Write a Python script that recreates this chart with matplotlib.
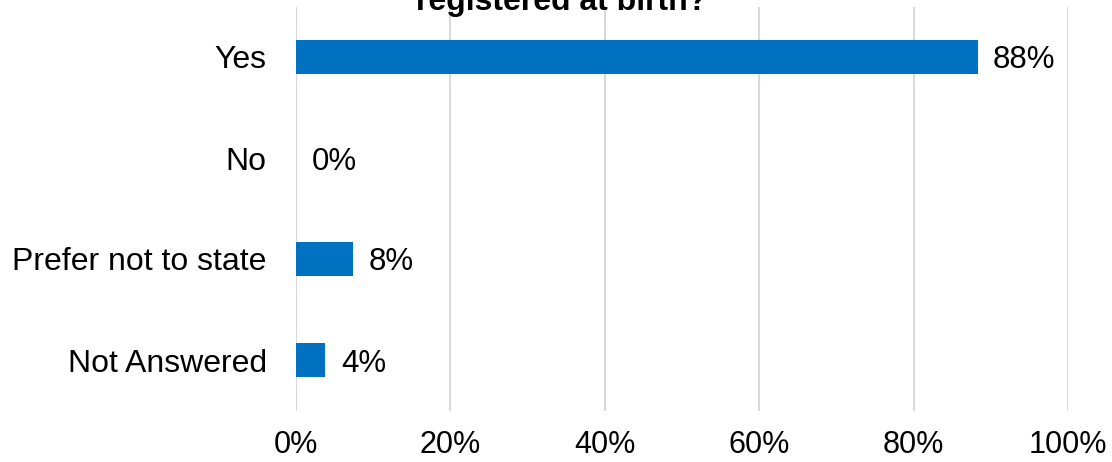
import matplotlib
matplotlib.use("Agg")
import matplotlib.pyplot as plt
from matplotlib.ticker import FuncFormatter

plt.rcParams['font.family'] = ['Liberation Sans', 'DejaVu Sans']

categories = ["Yes", "No", "Prefer not to state", "Not Answered"]
values = [88.3, 0.0, 7.4, 3.8]
labels = ["88%", "0%", "8%", "4%"]
xticks = [0, 20, 40, 60, 80, 100]

fig = plt.figure(figsize=(11.12, 4.62), dpi=100)
ax = fig.add_axes([296/1112, 1 - 410.5/462, 772/1112, 404/462])

y = list(range(len(categories)))
ax.barh(y, values, height=0.34, color="#0070C0", zorder=3)
for yi, v, lab in zip(y, values, labels):
    ax.text(v + 2.0, yi, lab, va="center_baseline", ha="left", fontsize=22.5, color="black")

ax.set_xlim(0, 100)
ax.set_ylim(len(categories) - 0.5, -0.5)
ax.set_yticks(y)
ax.set_yticklabels(categories, fontsize=23, va="center_baseline")
ax.set_xticks(xticks)
ax.xaxis.set_major_formatter(FuncFormatter(lambda v, p: f"{v:.0f}%"))
ax.tick_params(axis="x", labelsize=22, length=0, pad=14)
ax.tick_params(axis="y", length=0, pad=21)
ax.grid(axis="x", color="#d9d9d9", linewidth=1.5, zorder=0)
for s in ax.spines.values():
    s.set_visible(False)

fig.text(562/1112, 1 - 10/462, "registered at birth?", ha="center", va="baseline",
         fontsize=23, fontweight="bold")

fig.savefig("out.png", dpi=100)
